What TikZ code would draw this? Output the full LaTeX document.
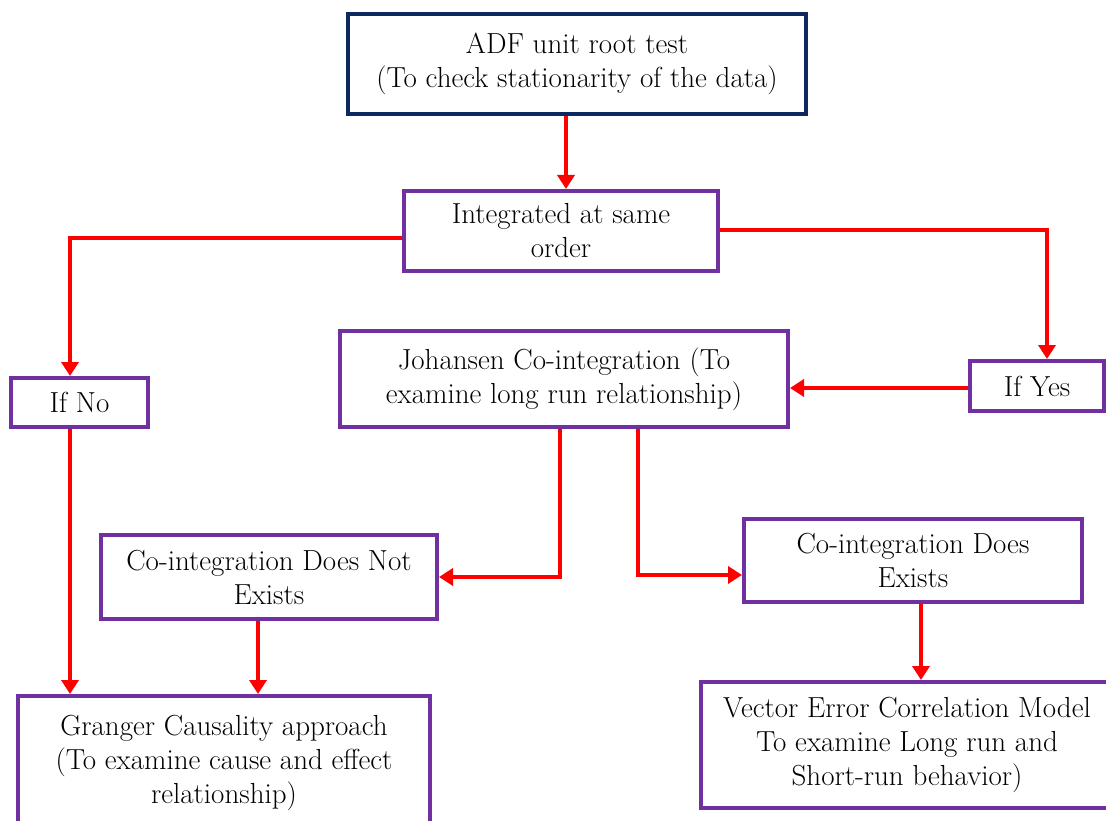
\documentclass[tikz,border=0pt]{standalone}
\usepackage{fontspec}
\usetikzlibrary{arrows.meta}
\definecolor{navyb}{HTML}{0E2760}
\definecolor{purp}{HTML}{7030A0}
\definecolor{arrred}{HTML}{FF0000}
\begin{document}
\begin{tikzpicture}[x=1pt,y=-1pt,
  box/.style={draw=purp, line width=4pt, inner sep=0pt, align=center,
    font=\fontsize{29}{34}\selectfont, text=black},
  arr/.style={draw=arrred, line width=4pt, -{Triangle[width=17pt,length=14pt]}}]
\useasboundingbox (0,0) rectangle (1106,821);
\begin{scope}
\clip (0,0) rectangle (1106,821);
% column / row helpers
\coordinate (x566) at (566,0);
\coordinate (x70) at (70,0);
\coordinate (x1047) at (1047,0);
\coordinate (x560) at (560,0);
\coordinate (x638) at (638,0);
\coordinate (x921) at (921,0);
\coordinate (x258) at (258,0);
\coordinate (y238) at (0,238);
\coordinate (y230) at (0,230);
\coordinate (y575) at (0,575);
\coordinate (y388) at (0,388);

\node[box, draw=navyb, minimum width=458, minimum height=100] (adf) at (577,64)
  {ADF unit root test\\(To check stationarity of the data)};
\node[box, minimum width=314, minimum height=80] (int) at (561,231)
  {Integrated at same\\order};
\node[box, minimum width=137, minimum height=49] (ifno) at (79.5,402.5) {If No};
\node[box, minimum width=448, minimum height=96] (joh) at (564,379)
  {Johansen Co-integration (To\\examine long run relationship)};
\node[box, minimum width=134, minimum height=50] (ifyes) at (1037,386) {If Yes};
\node[box, minimum width=336, minimum height=84] (conot) at (269,577)
  {Co-integration Does Not\\Exists};
\node[box, minimum width=338, minimum height=83] (coex) at (913,560.5)
  {Co-integration Does\\Exists};
\node[box, minimum width=412, minimum height=134] (gran) at (224,763)
  {Granger Causality approach\\(To examine cause and effect\\relationship)};
\node[box, minimum width=412, minimum height=126] (vecm) at (907,745)
  {Vector Error Correlation Model\\To examine Long run and\\Short-run behavior)};

\draw[arr] (x566 |- adf.south) -- (x566 |- int.north);
\draw[arr] (int.west |- y238) -| (x70 |- ifno.north);
\draw[arr] (int.east |- y230) -| (x1047 |- ifyes.north);
\draw[arr] (ifyes.west |- y388) -- (joh.east |- y388);
\draw[arr] (x560 |- joh.south) |- (conot.east);
\draw[arr] (x638 |- joh.south) |- (coex.west |- y575);
\draw[arr] (x921 |- coex.south) -- (x921 |- vecm.north);
\draw[arr] (x70 |- ifno.south) -- (x70 |- gran.north);
\draw[arr] (x258 |- conot.south) -- (x258 |- gran.north);
\end{scope}
\end{tikzpicture}
\end{document}
